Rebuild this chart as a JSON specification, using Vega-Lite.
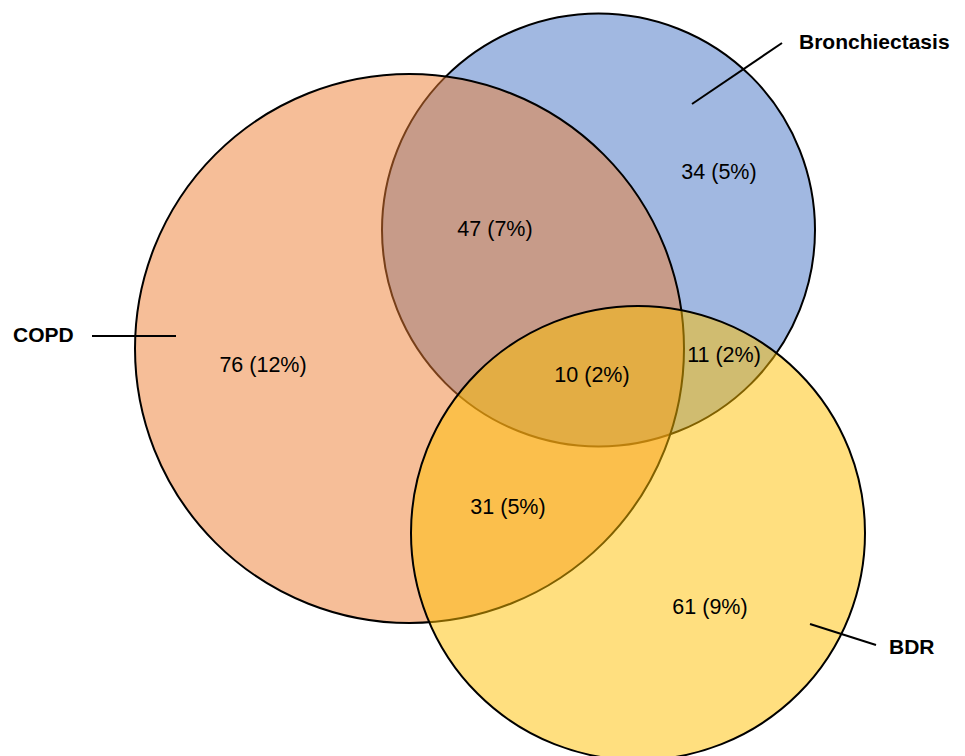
{
  "$schema": "https://vega.github.io/schema/vega-lite/v6.json",
  "width": 965,
  "height": 756,
  "padding": 0,
  "autosize": {"type": "none"},
  "background": "white",
  "config": {"view": {"stroke": null}},
  "datasets": {
    "circles": [
      {"set": "Bronchiectasis", "cx": 598.5, "cy": 230, "r": 216.5},
      {"set": "COPD", "cx": 409.5, "cy": 348.5, "r": 274.5},
      {"set": "BDR", "cx": 638, "cy": 533, "r": 227}
    ],
    "regions": [
      {"label": "34 (5%)", "x": 719, "y": 173},
      {"label": "47 (7%)", "x": 495, "y": 230},
      {"label": "76 (12%)", "x": 263, "y": 366},
      {"label": "10 (2%)", "x": 592, "y": 376},
      {"label": "11 (2%)", "x": 724, "y": 356},
      {"label": "31 (5%)", "x": 508, "y": 508},
      {"label": "61 (9%)", "x": 710, "y": 608}
    ],
    "leaders": [
      {"set": "Bronchiectasis", "x1": 692, "y1": 104, "x2": 782, "y2": 43},
      {"set": "COPD", "x1": 92, "y1": 336, "x2": 176, "y2": 336},
      {"set": "BDR", "x1": 810, "y1": 624, "x2": 876, "y2": 645}
    ],
    "names": [
      {"name": "Bronchiectasis", "x": 799, "y": 43},
      {"name": "COPD", "x": 13, "y": 336},
      {"name": "BDR", "x": 889, "y": 648}
    ]
  },
  "layer": [
    {
      "data": {"name": "circles"},
      "mark": {"type": "point", "shape": "circle", "filled": true, "opacity": 1, "fillOpacity": 0.5, "stroke": "black", "strokeWidth": 2, "strokeOpacity": 1},
      "encoding": {
        "x": {"field": "cx", "type": "quantitative", "scale": {"domain": [0, 965], "nice": false, "zero": false}, "axis": null},
        "y": {"field": "cy", "type": "quantitative", "scale": {"domain": [0, 756], "nice": false, "zero": false, "reverse": true}, "axis": null},
        "size": {"field": "r", "type": "quantitative", "scale": {"type": "pow", "exponent": 2, "domain": [0, 1000], "range": [0, 4000000]}, "legend": null},
        "fill": {"field": "set", "type": "nominal", "scale": {"domain": ["Bronchiectasis", "COPD", "BDR"], "range": ["#4472C4", "#ED7D31", "#FFC000"]}, "legend": null}
      }
    },
    {
      "data": {"name": "leaders"},
      "mark": {"type": "rule", "color": "black", "strokeWidth": 2},
      "encoding": {
        "x": {"field": "x1", "type": "quantitative", "scale": {"domain": [0, 965], "nice": false, "zero": false}, "axis": null},
        "y": {"field": "y1", "type": "quantitative", "scale": {"domain": [0, 756], "nice": false, "zero": false, "reverse": true}, "axis": null},
        "x2": {"field": "x2"},
        "y2": {"field": "y2"}
      }
    },
    {
      "data": {"name": "regions"},
      "mark": {"type": "text", "font": "Liberation Sans", "fontSize": 21.5, "align": "center", "baseline": "middle", "color": "black"},
      "encoding": {
        "x": {"field": "x", "type": "quantitative", "scale": {"domain": [0, 965], "nice": false, "zero": false}, "axis": null},
        "y": {"field": "y", "type": "quantitative", "scale": {"domain": [0, 756], "nice": false, "zero": false, "reverse": true}, "axis": null},
        "text": {"field": "label"}
      }
    },
    {
      "data": {"name": "names"},
      "mark": {"type": "text", "font": "Liberation Sans", "fontSize": 21, "fontWeight": "bold", "align": "left", "baseline": "middle", "color": "black"},
      "encoding": {
        "x": {"field": "x", "type": "quantitative", "scale": {"domain": [0, 965], "nice": false, "zero": false}, "axis": null},
        "y": {"field": "y", "type": "quantitative", "scale": {"domain": [0, 756], "nice": false, "zero": false, "reverse": true}, "axis": null},
        "text": {"field": "name"}
      }
    }
  ]
}
